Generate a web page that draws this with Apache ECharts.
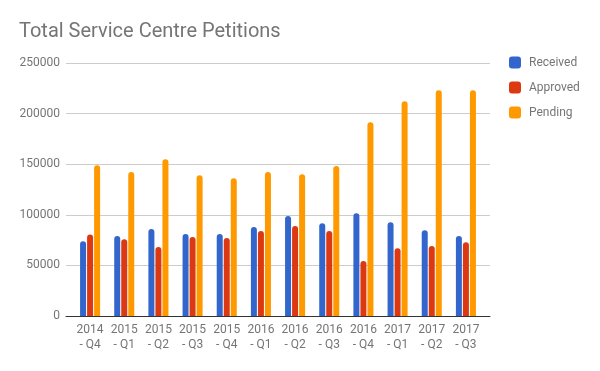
<!DOCTYPE html>
<html>
<head>
<meta charset="utf-8">
<script src="https://cdn.jsdelivr.net/npm/echarts@6/dist/echarts.min.js"></script>
<style>html,body{margin:0;padding:0;background:#fff}#c{width:600px;height:371px}</style>
</head>
<body>
<div id="c"></div>
<script>
const categories = ['2014\n- Q4','2015\n- Q1','2015\n- Q2','2015\n- Q3','2015\n- Q4','2016\n- Q1','2016\n- Q2','2016\n- Q3','2016\n- Q4','2017\n- Q1','2017\n- Q2','2017\n- Q3'];
const received = [73800, 79000, 86000, 81000, 81000, 88000, 98800, 91600, 101500, 92600, 84700, 79000];
const approved = [80500, 75800, 68200, 78000, 77000, 84000, 88900, 84000, 54300, 66900, 69200, 72800];
const pending = [148900, 142300, 154800, 139000, 136000, 142300, 140000, 148200, 191400, 212100, 223000, 223000];
const yTicks = [0, 50000, 100000, 150000, 200000, 250000];

const chart = echarts.init(document.getElementById('c'), null, {renderer: 'canvas'});
const font = 'Roboto, Arial, sans-serif';
const gray = '#757575';
chart.setOption({
  animation: false,
  color: ['#3366cc', '#dc3912', '#ff9900'],
  title: {
    text: 'Total Service Centre Petitions',
    left: 19, top: 22, padding: 0,
    textStyle: {fontFamily: font, fontSize: 20, fontWeight: 'normal', color: gray}
  },
  legend: {
    orient: 'vertical', left: 509, top: 56.5, padding: 0,
    itemWidth: 12, itemHeight: 12, itemGap: 13, icon: 'roundRect',
    textStyle: {fontFamily: font, fontSize: 12, color: gray, padding: [0, 0, 0, 3]},
    data: ['Received', 'Approved', 'Pending']
  },
  grid: [
    {left: 66, right: 110, top: 63, bottom: 55},
    {left: 73, right: 117, top: 63, bottom: 55}
  ],
  xAxis: [
    {gridIndex: 0, type: 'value', min: 0, max: 1, axisLabel: {show: false}, axisTick: {show: false}, splitLine: {show: false},
     axisLine: {show: true, lineStyle: {color: '#333', width: 1}}},
    {gridIndex: 1, type: 'category', data: categories, axisLine: {show: false}, axisTick: {show: false},
     axisLabel: {fontFamily: font, fontSize: 12, color: gray, lineHeight: 15, margin: 6, interval: 0}}
  ],
  yAxis: [
    {gridIndex: 0, type: 'value', min: yTicks[0], max: yTicks[yTicks.length - 1], interval: 50000,
     axisLine: {show: false}, axisTick: {show: false},
     axisLabel: {fontFamily: font, fontSize: 12, color: gray, margin: 6, formatter: v => String(v)},
     splitLine: {lineStyle: {color: '#cccccc', width: 1}}},
    {gridIndex: 1, type: 'value', min: yTicks[0], max: yTicks[yTicks.length - 1], interval: 50000,
     axisLine: {show: false}, axisTick: {show: false}, axisLabel: {show: false}, splitLine: {show: false}}
  ],
  series: [
    {name: 'Received', type: 'bar', xAxisIndex: 1, yAxisIndex: 1, data: received, barWidth: 6, barGap: '17%', itemStyle: {borderRadius: [3, 3, 0, 0]}},
    {name: 'Approved', type: 'bar', xAxisIndex: 1, yAxisIndex: 1, data: approved, barWidth: 6, barGap: '17%', itemStyle: {borderRadius: [3, 3, 0, 0]}},
    {name: 'Pending', type: 'bar', xAxisIndex: 1, yAxisIndex: 1, data: pending, barWidth: 6, barGap: '17%', itemStyle: {borderRadius: [3, 3, 0, 0]}}
  ]
});
</script>
</body>
</html>
